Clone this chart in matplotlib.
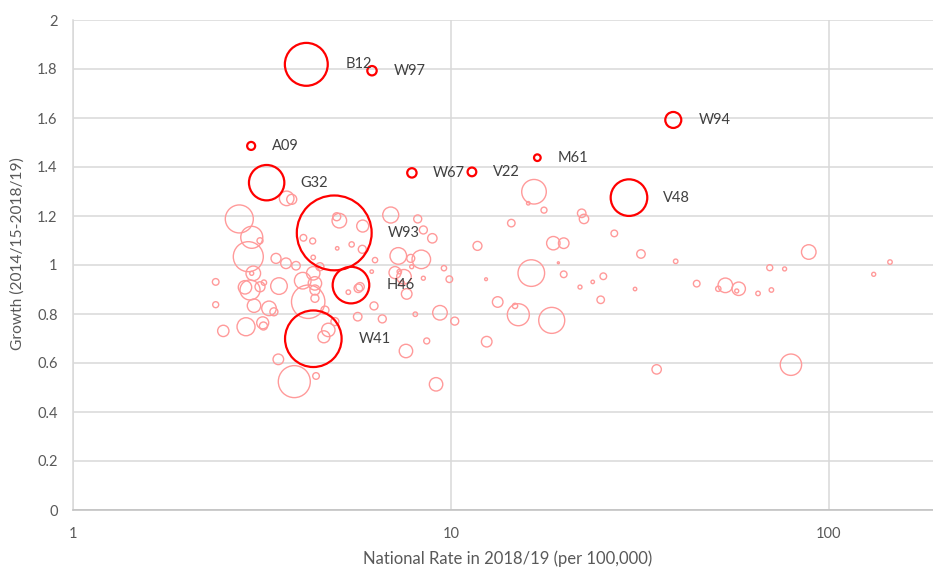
import matplotlib
matplotlib.use("Agg")
import matplotlib.pyplot as plt
from matplotlib.ticker import FixedLocator, NullLocator

# ---------------- data ----------------
# other areas (light bubbles)
rate = [3.675, 3.79, 2.754, 2.971, 3.124, 2.909, 3.444, 3.66, 3.89, 2.999,
        2.97, 2.385, 2.851, 2.94, 3.124, 3.20, 3.507, 4.053, 4.32, 4.50,
        4.365, 4.365, 4.365, 4.19, 4.64, 2.385, 3.012, 3.30, 3.40, 2.869,
        3.176, 3.19, 2.498, 3.493, 3.85, 4.395, 4.736, 4.61, 4.93, 4.985,
        5.065, 5.84, 4.07, 4.306, 5.46, 5.00, 5.825, 4.32, 5.35, 5.686,
        5.745, 6.295, 6.17, 6.927, 8.165, 8.45, 8.925, 7.254, 7.825, 8.345,
        7.87, 7.11, 7.30, 7.51, 7.635, 7.42, 8.45, 9.58, 9.90, 11.75,
        12.38, 8.045, 9.35, 10.23, 8.625, 12.43, 7.60, 9.13, 5.665, 6.256,
        6.58, 16.58, 16.01, 17.62, 22.17, 22.48, 14.44, 27.04, 18.65, 19.87,
        31.81, 39.30, 88.4, 19.23, 16.31, 19.87, 25.29, 23.71, 21.94, 30.68,
        24.89, 13.29, 44.67, 53.18, 50.95, 57.69, 57.0, 64.9, 70.4, 69.7,
        76.3, 131.3, 145.0, 15.07, 14.77, 18.47, 35.0, 79.3]
growth = [1.272, 1.268, 1.188, 1.113, 1.099, 1.034, 1.027, 1.007, 0.997, 0.966,
          0.966, 0.931, 0.909, 0.898, 0.911, 0.928, 0.914, 0.936, 0.966, 0.993,
          0.925, 0.898, 0.864, 0.850, 0.816, 0.838, 0.834, 0.823, 0.809, 0.748,
          0.764, 0.751, 0.731, 0.615, 0.524, 0.547, 0.735, 0.707, 0.769, 1.197,
          1.181, 1.159, 1.111, 1.098, 1.084, 1.068, 1.064, 1.031, 0.889, 0.905,
          0.911, 1.020, 0.973, 1.204, 1.188, 1.143, 1.109, 1.037, 1.027, 1.023,
          0.993, 0.969, 0.973, 0.952, 0.882, 0.925, 0.946, 0.987, 0.942, 1.078,
          0.942, 0.799, 0.805, 0.771, 0.690, 0.687, 0.649, 0.513, 0.789, 0.833,
          0.780, 1.299, 1.252, 1.224, 1.211, 1.188, 1.171, 1.129, 1.089, 1.089,
          1.045, 1.015, 1.053, 1.009, 0.967, 0.962, 0.954, 0.931, 0.910, 0.902,
          0.858, 0.849, 0.924, 0.917, 0.903, 0.903, 0.894, 0.884, 0.898, 0.989,
          0.984, 0.962, 1.012, 0.797, 0.833, 0.774, 0.574, 0.593]
volume = [53, 25, 196, 121, 9, 225, 25, 28, 18, 53,
          4, 11, 45, 100, 25, 7, 69, 69, 45, 16,
          45, 25, 16, 279, 16, 9, 45, 53, 16, 81,
          36, 16, 32, 28, 256, 11, 45, 36, 16, 16,
          53, 36, 11, 9, 7, 3, 16, 5, 5, 18,
          18, 7, 3, 64, 16, 16, 22, 69, 16, 86,
          4, 36, 5, 53, 28, 7, 4, 7, 11, 20,
          2, 5, 53, 16, 9, 28, 45, 45, 18, 16,
          16, 151, 3, 9, 18, 22, 14, 11, 45, 28,
          18, 5, 53, 1, 177, 11, 11, 3, 4, 3,
          14, 28, 11, 53, 7, 45, 4, 5, 5, 9,
          4, 4, 5, 121, 7, 169, 22, 114]

# highlighted areas
hl_names = ["B12", "W97", "A09", "W94", "M61", "W67", "V22", "G32", "V48", "W93", "H46", "W41"]
hl_rate = [4.142, 6.18, 2.96, 38.73, 16.92, 7.88, 11.36, 3.253, 29.57, 4.91, 5.437, 4.323]
hl_growth = [1.819, 1.793, 1.486, 1.592, 1.438, 1.376, 1.380, 1.336, 1.275, 1.131, 0.918, 0.699]
hl_volume = [460, 22, 16, 64, 11, 22, 19, 313, 335, 1400, 335, 800]

y_ticks = [0, 0.2, 0.4, 0.6, 0.8, 1, 1.2, 1.4, 1.6, 1.8, 2]
y_ticklabels = ["0", "0.2", "0.4", "0.6", "0.8", "1", "1.2", "1.4", "1.6", "1.8", "2"]
x_ticks = [1, 10, 100]
x_ticklabels = ["1", "10", "100"]
x_title = "National Rate in 2018/19 (per 100,000)"
y_title = "Growth (2014/15-2018/19)"

# ---------------- plot ----------------
plt.rcParams["font.family"] = ["Lato", "DejaVu Sans"]
W, H = 933, 568
fig = plt.figure(figsize=(W / 100, H / 100), dpi=100)
ax = fig.add_axes([73 / W, 58 / H, (W - 73) / W, 490 / H])

k = (2 * 0.72) ** 2  # px^2 -> pt^2 for marker area
ax.scatter(rate, growth, s=[v * k for v in volume], facecolors="none",
           edgecolors="#FF9A9A", linewidths=1.0, zorder=3)
ax.scatter(hl_rate, hl_growth, s=[v * k for v in hl_volume], facecolors="none",
           edgecolors="#FF0000", linewidths=1.6, zorder=4)

label_dx = [39, 22, 21, 25, 20, 21, 21, 34, 34, 54, 36, 45]
for name, xv, yv, dx in zip(hl_names, hl_rate, hl_growth, label_dx):
    ax.annotate(name, (xv, yv), xytext=(dx * 0.72, 0), textcoords="offset points",
                ha="left", va="center", fontsize=10.5, color="#404040", zorder=5)

ax.set_xscale("log")
ax.set_xlim(1, 10 ** ((W - 73) / 378))
ax.set_ylim(0, 2)
ax.xaxis.set_major_locator(FixedLocator(x_ticks))
ax.xaxis.set_minor_locator(NullLocator())
ax.set_xticks(x_ticks)
ax.set_xticklabels(x_ticklabels)
ax.set_yticks(y_ticks)
ax.set_yticklabels(y_ticklabels)
ax.tick_params(axis="both", length=0, labelsize=10.5, colors="#595959")
ax.tick_params(axis="y", pad=11)
ax.tick_params(axis="x", pad=12)

ax.grid(True, color="#D9D9D9", linewidth=1.1, zorder=0)
ax.set_axisbelow(True)
for s in ["top", "right"]:
    ax.spines[s].set_visible(False)
ax.spines["left"].set_color("#D9D9D9")
ax.spines["left"].set_linewidth(1.1)
ax.spines["bottom"].set_color("#BFBFBF")
ax.spines["bottom"].set_linewidth(1.1)

fig.text(508 / W, 1 - 559 / H, x_title, ha="center", va="center",
         fontsize=12, color="#595959")
fig.text(18 / W, 1 - 254 / H, y_title, ha="center", va="center",
         rotation=90, fontsize=11.2, color="#595959")

fig.savefig("out.png", dpi=100)
